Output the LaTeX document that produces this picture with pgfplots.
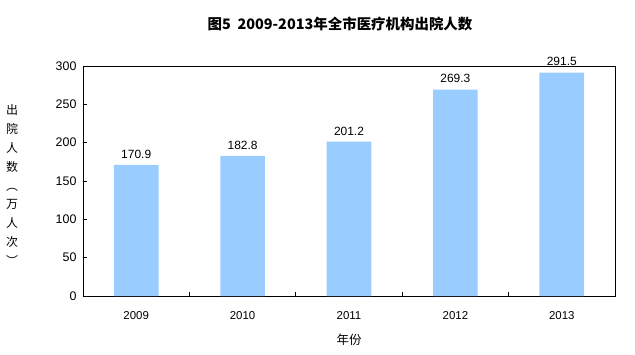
\documentclass[border=0pt]{standalone}
\usepackage{pgfplots}
\pgfplotsset{compat=1.18}
\usepackage{fontspec}
\setmainfont{Liberation Sans}
\newfontfamily\cjk{Noto Sans CJK SC}
\definecolor{barblue}{HTML}{99CCFF}
\begin{document}
\begin{tikzpicture}
\begin{axis}[
  at={(0,0)}, anchor=south west,
  scale only axis,
  width=532bp, height=230bp,
  xmin=-0.5, xmax=4.5,
  ymin=0, ymax=300,
  ytick={0,50,...,300},
  xtick={0,1,2,3,4},
  xticklabels={2009,2010,2011,2012,2013},
  major x tick style={draw=none},
  minor xtick={0.5,1.5,2.5,3.5},
  minor x tick style={black, line width=1pt},
  minor tick length=4bp,
  major tick length=4bp,
  tick align=inside,
  xtick pos=bottom, ytick pos=left,
  axis line style={black, line width=1pt},
  ytick style={black, line width=1pt},
  tick label style={font=\fontsize{12.5}{14}\selectfont},
  xticklabel style={yshift=-12bp, font=\fontsize{11.5}{13}\selectfont},
  yticklabel style={xshift=-3bp},
  /pgf/number format/assume math mode=true,
  nodes near coords,
  nodes near coords style={font=\fontsize{12}{14}\selectfont, yshift=3bp, /pgf/number format/.cd, fixed, precision=1, fixed zerofill},
  clip=false,
]
\addplot[ybar, bar width=0.42, fill=barblue, draw=none] coordinates {(0,170.9) (1,182.8) (2,201.2) (3,269.3) (4,291.5)};
\end{axis}
\node at (257bp,272bp) {\cjk\bfseries\fontsize{14.5}{17}\selectfont 图5\ \ 2009-2013年全市医疗机构出院人数};
\node at (266bp,-44bp) {\cjk\fontsize{12.5}{15}\selectfont 年份};
\node[align=center, font=\cjk\fontsize{12}{19}\selectfont] at (-71bp,111bp) {出\\院\\人\\数\\︵\\万\\人\\次\\︶};
\path[use as bounding box] (-83bp,-59bp) rectangle (552bp,296bp);
\end{tikzpicture}
\end{document}
